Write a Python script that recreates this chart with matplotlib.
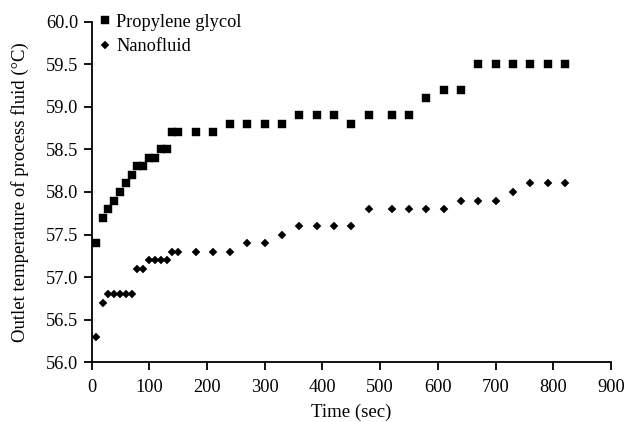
import matplotlib
matplotlib.use("Agg")
import matplotlib.pyplot as plt

# Data
pg_time = [8, 19, 29, 39, 49, 59, 69, 79, 89, 99, 109, 120, 130, 140, 150, 180, 210,
           240, 270, 300, 330, 360, 390, 420, 450, 480, 520, 550, 580, 610, 640,
           670, 700, 730, 760, 790, 820]
pg_temp = [57.4, 57.7, 57.8, 57.9, 58.0, 58.1, 58.2, 58.3, 58.3, 58.4, 58.4, 58.5, 58.5,
           58.7, 58.7, 58.7, 58.7, 58.8, 58.8, 58.8, 58.8, 58.9, 58.9, 58.9, 58.8, 58.9,
           58.9, 58.9, 59.1, 59.2, 59.2, 59.5, 59.5, 59.5, 59.5, 59.5, 59.5]

nf_time = [8, 19, 29, 39, 49, 59, 69, 79, 89, 99, 109, 120, 130, 140, 150, 180, 210,
           240, 270, 300, 330, 360, 390, 420, 450, 480, 520, 550, 580, 610, 640,
           670, 700, 730, 760, 790, 820]
nf_temp = [56.3, 56.7, 56.8, 56.8, 56.8, 56.8, 56.8, 57.1, 57.1, 57.2, 57.2, 57.2, 57.2,
           57.3, 57.3, 57.3, 57.3, 57.3, 57.4, 57.4, 57.5, 57.6, 57.6, 57.6, 57.6, 57.8,
           57.8, 57.8, 57.8, 57.8, 57.9, 57.9, 57.9, 58.0, 58.1, 58.1, 58.1]

x_ticks = [0, 100, 200, 300, 400, 500, 600, 700, 800, 900]
y_ticks = [56.0, 56.5, 57.0, 57.5, 58.0, 58.5, 59.0, 59.5, 60.0]

plt.rcParams['font.family'] = ['Liberation Serif', 'DejaVu Serif']

fig = plt.figure(figsize=(6.26, 4.22), dpi=100)
ax = fig.add_axes([0.1465, 0.1415, 0.8295, 0.8071])

ax.plot(pg_time, pg_temp, linestyle='none', marker='s', markersize=5.8,
        color='black', markeredgewidth=0.3, label='Propylene glycol')
ax.plot(nf_time, nf_temp, linestyle='none', marker='D', markersize=3.7,
        color='black', markeredgewidth=0.3, label='Nanofluid')

ax.set_xlim(0, 900)
ax.set_ylim(56.0, 60.0)
ax.set_xticks(x_ticks)
ax.set_yticks(y_ticks)
ax.set_yticklabels([f"{v:.1f}" for v in y_ticks])
ax.set_xticklabels([str(v) for v in x_ticks])

for s in ['top', 'right']:
    ax.spines[s].set_visible(False)
for s in ['left', 'bottom']:
    ax.spines[s].set_linewidth(1.3)
ax.tick_params(direction='out', length=5.8, width=1.3, labelsize=13.2)
ax.tick_params(axis='x', pad=6)
ax.tick_params(axis='y', pad=4)

ax.set_xlabel('Time (sec)', fontsize=13.5, labelpad=6)
ax.set_ylabel('Outlet temperature of process fluid (°C)', fontsize=13.5, labelpad=12)

leg = ax.legend(loc='upper left', frameon=False, fontsize=13.2, handlelength=0.6,
                handletextpad=0.35, borderaxespad=0.0, labelspacing=0.4,
                bbox_to_anchor=(0.0, 1.045))

fig.savefig('out.png', dpi=100)
